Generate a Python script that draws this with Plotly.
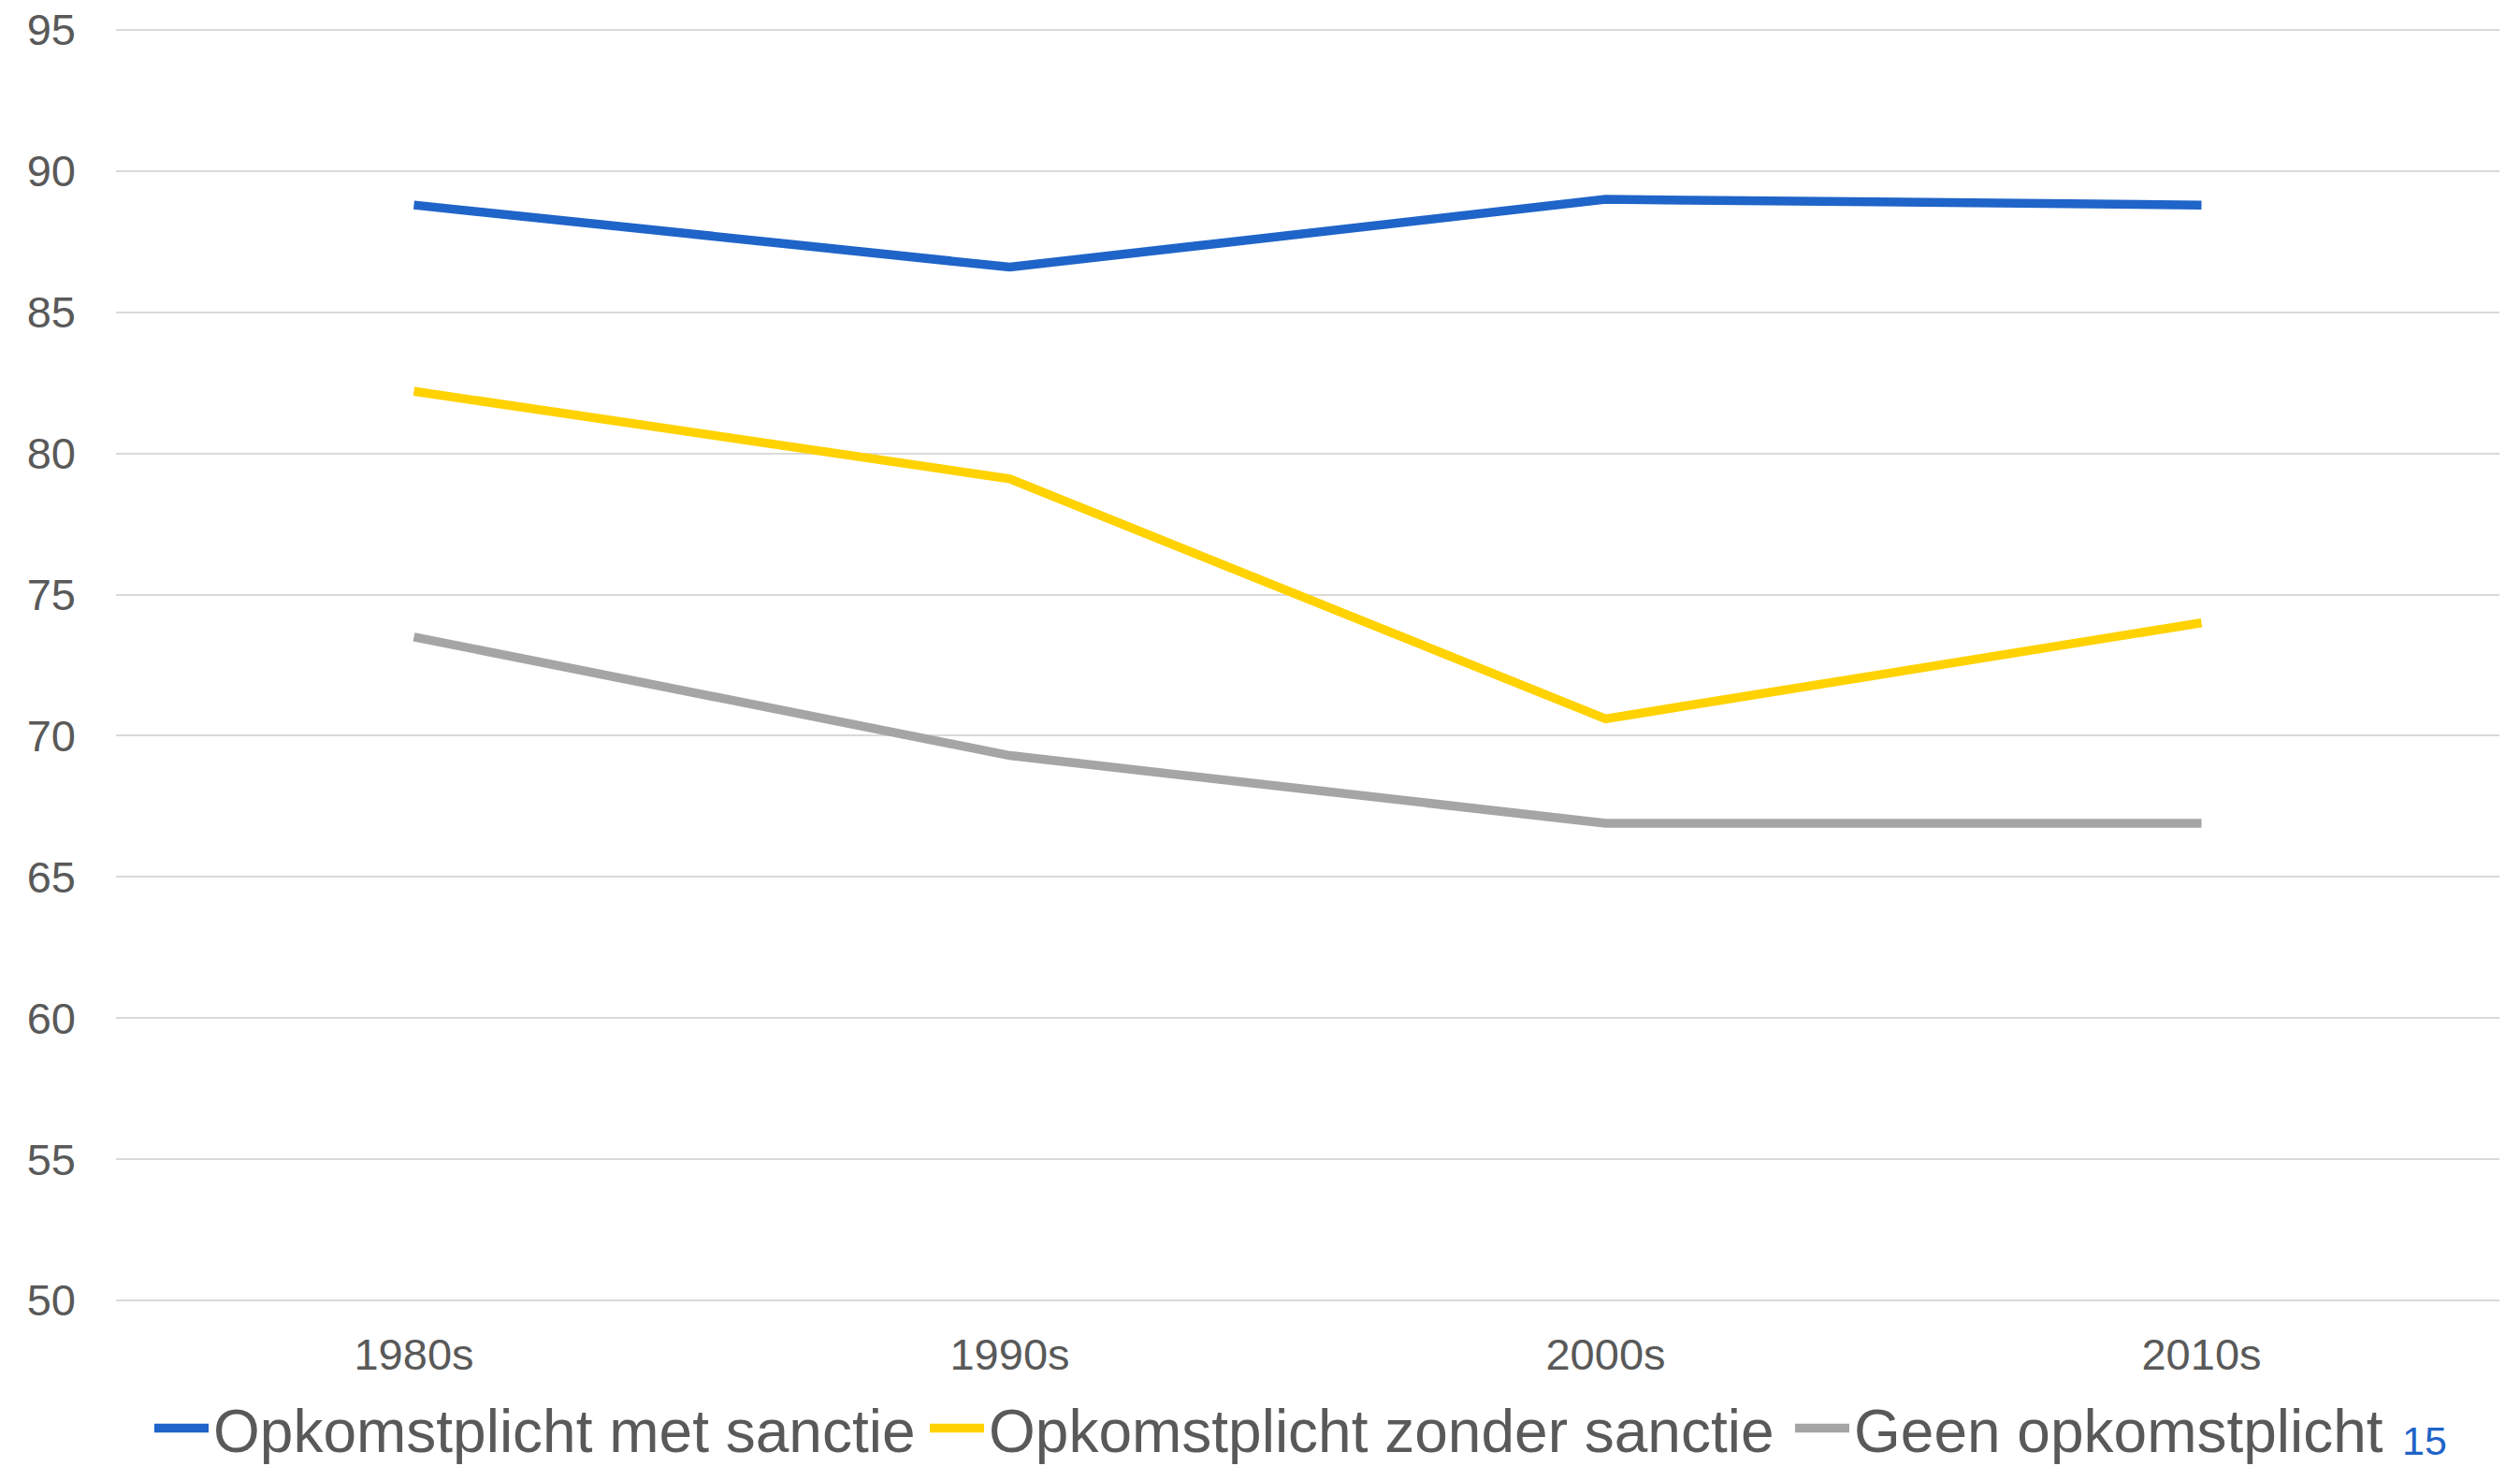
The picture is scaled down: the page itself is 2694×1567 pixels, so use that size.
import plotly.graph_objects as go

categories = ["1980s", "1990s", "2000s", "2010s"]
met_sanctie = [88.8, 86.6, 89.0, 88.8]
zonder_sanctie = [82.2, 79.1, 70.6, 74.0]
geen_plicht = [73.5, 69.3, 66.9, 66.9]
series_names = ["Opkomstplicht met sanctie", "Opkomstplicht zonder sanctie", "Geen opkomstplicht"]
y_ticks = [50, 55, 60, 65, 70, 75, 80, 85, 90, 95]
footnote = "15"

colors = ["#1F64C8", "#FFD200", "#A5A5A5"]
FONT = "Liberation Sans, Arial, sans-serif"
TEXT = "#595959"
W, H = 2694, 1567

legend_ids = ["legend", "legend2", "legend3"]
legend_x = [160, 989, 1914]

fig = go.Figure()
for name, vals, col, lid in zip(series_names, [met_sanctie, zonder_sanctie, geen_plicht], colors, legend_ids):
    fig.add_trace(go.Scatter(
        x=categories, y=vals, name=name, mode="lines",
        line=dict(color=col, width=9.5),
        legend=lid,
    ))

def legend_cfg(px):
    return dict(
        orientation="h", xref="container", yref="container",
        x=px / W, xanchor="left",
        y=1 - 1527 / H, yanchor="middle",
        font=dict(size=64, color=TEXT, family=FONT),
        itemwidth=58,
        bgcolor="rgba(0,0,0,0)",
    )

# plot area: y=50 at 1390 px, y=95 at 32 px (30.18 px per unit)
fig.update_layout(
    width=W, height=H,
    margin=dict(l=124, r=22, t=26, b=171, autoexpand=False),
    paper_bgcolor="white", plot_bgcolor="white",
    font=dict(family=FONT, color=TEXT, size=46),
    showlegend=True,
    legend=legend_cfg(legend_x[0]),
    legend2=legend_cfg(legend_x[1]),
    legend3=legend_cfg(legend_x[2]),
    xaxis=dict(
        type="category", range=[-0.5, 3.5],
        showgrid=False, zeroline=False, showline=False,
        ticks="", tickfont=dict(size=47, color=TEXT),
        ticklabelstandoff=20,
    ),
    yaxis=dict(
        range=[49.8, 95.2], tickvals=y_ticks,
        showgrid=True, gridcolor="#D9D9D9", gridwidth=2,
        zeroline=False, showline=False, ticks="",
        tickfont=dict(size=47, color=TEXT),
        ticklabelstandoff=42,
    ),
    annotations=[dict(
        text=footnote, xref="paper", yref="paper",
        x=(2566 - 124) / 2548, y=-(1540 - 1396) / 1370,
        xanchor="left", yanchor="middle", showarrow=False,
        font=dict(size=43, color="#1F64C8", family=FONT),
    )],
)

fig.write_html(
    "out.html",
    config={"displayModeBar": False},
    post_script="document.body.style.margin='0';document.body.style.overflow='hidden';",
)
